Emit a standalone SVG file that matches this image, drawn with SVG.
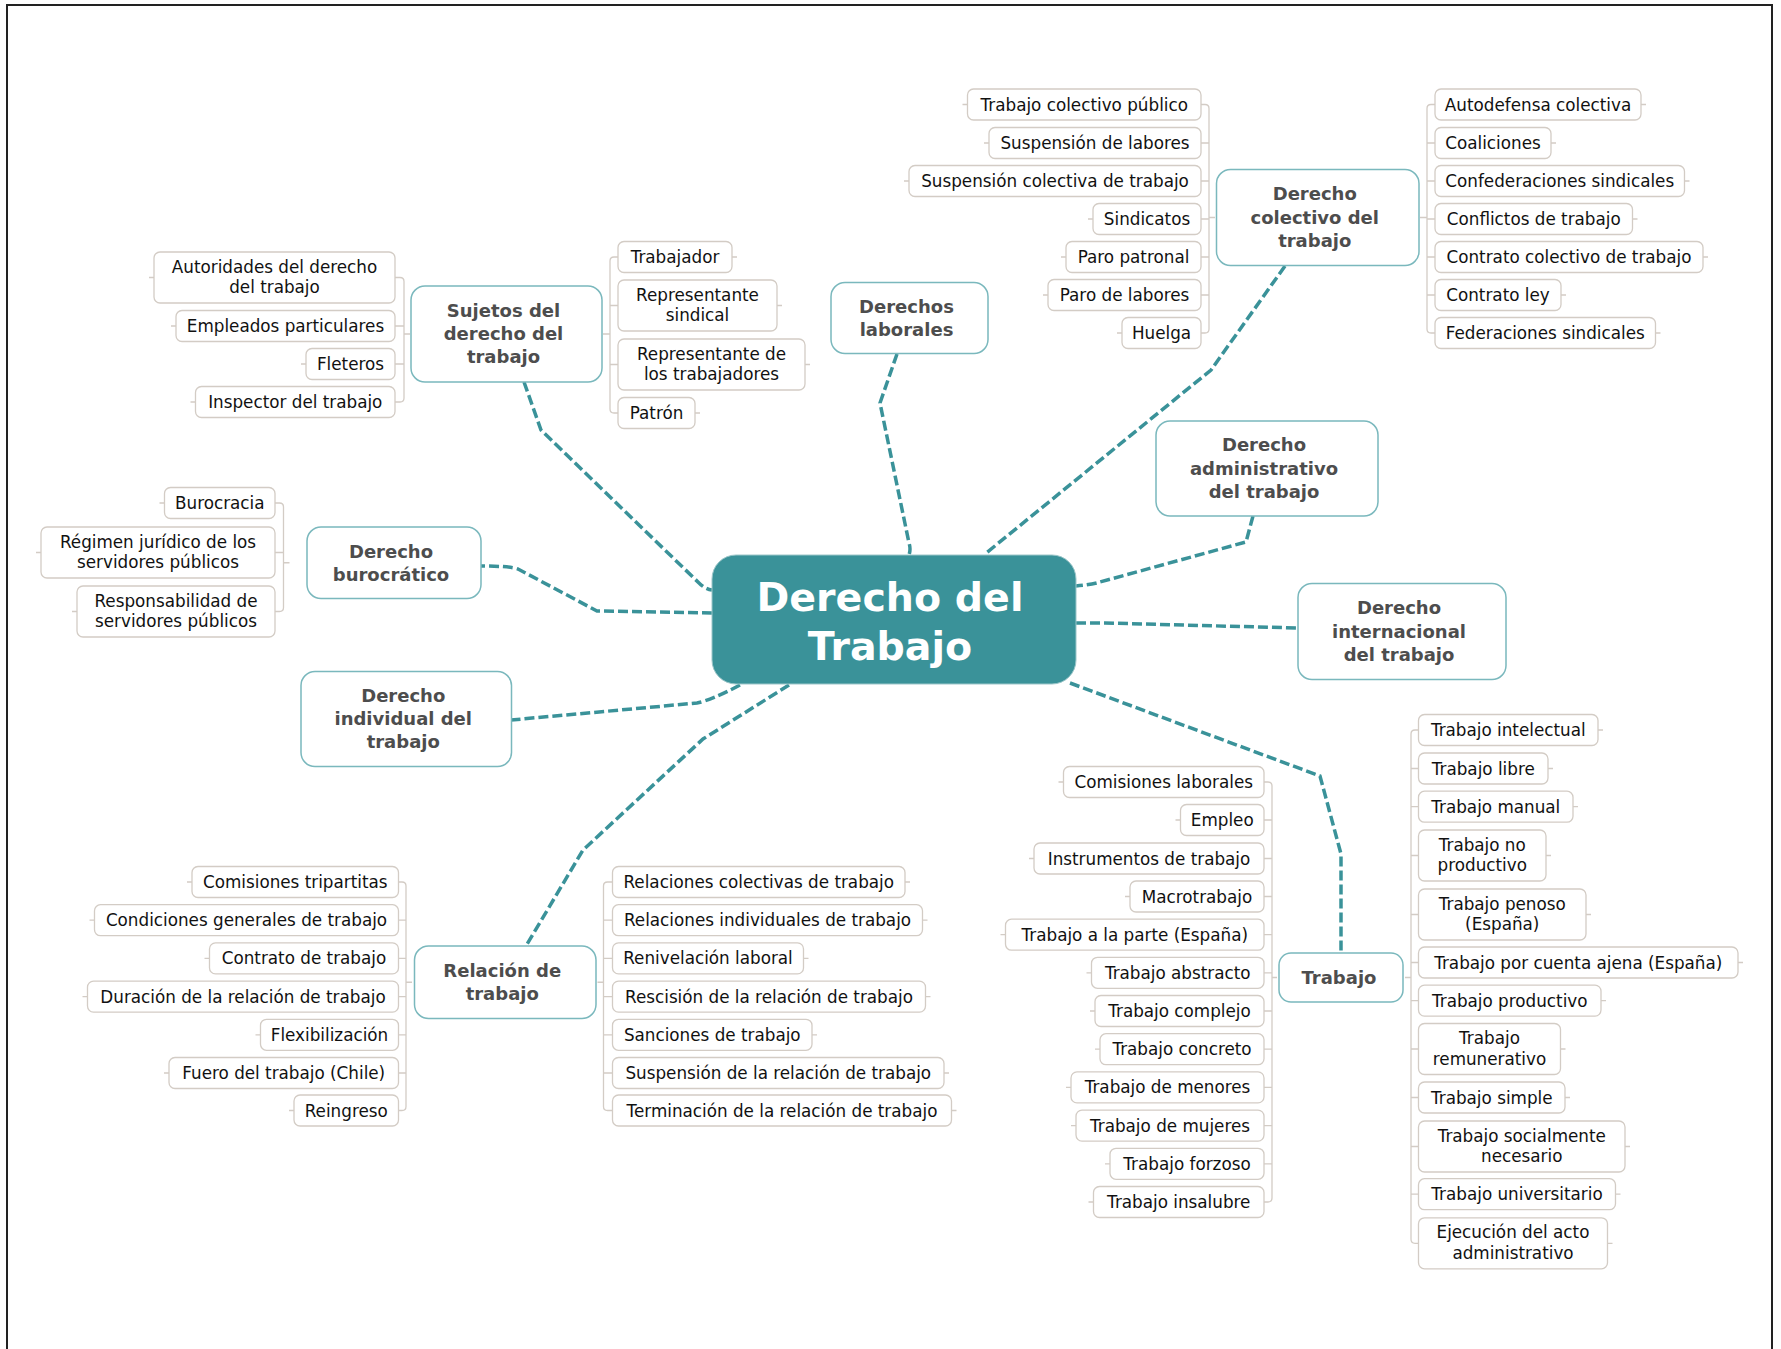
<svg xmlns="http://www.w3.org/2000/svg" width="1781" height="1349" viewBox="0 0 1781 1349">
<style>
.leaf rect{fill:#fff;stroke:#d3ccc5;stroke-width:1.3}
.leaf text{font-family:"DejaVu Sans",Verdana,sans-serif;font-size:16.8px;fill:#111;text-anchor:middle}
.main rect{fill:#fff;stroke:#7ab8bd;stroke-width:1.5}
.main text{font-family:"DejaVu Sans",Verdana,sans-serif;font-size:18px;font-weight:bold;fill:#4d4d4d;text-anchor:middle}
.br{fill:none;stroke:#d3ccc5;stroke-width:1.3}
.conn{fill:none;stroke:#3a9299;stroke-width:3.5;stroke-dasharray:10 4}
</style>
<rect width="1781" height="1349" fill="#fff"/>
<path d="M7,1349 V5 H1772 V1349" fill="none" stroke="#222" stroke-width="2"/>

<g id="connectors">
<path class="conn" d="M524,382 L541,430 L699,583 Q705,589 712,590"/>
<path class="conn" d="M897,354 L880,403 L909,543 Q911,549 909,555"/>
<path class="conn" d="M1285,266 L1211,370 L985,554"/>
<path class="conn" d="M1253,516 L1246,542 L1100,582 Q1090,585 1076,586"/>
<path class="conn" d="M1076,623 L1105,623 L1298,628"/>
<path class="conn" d="M1070,683 L1320,776 L1341,854 L1341,953"/>
<path class="conn" d="M789,685 L703,739 L583,850 L526,946"/>
<path class="conn" d="M740,685 Q712,700 697,703 L511,720"/>
<path class="conn" d="M712,613 L597,611 L518,569 Q510,566 481,566"/>

<path class="br" d="M395,277.5 H400 Q404,277.5 404,281.5 V398 Q404,402 400,402 H395 M395,326 H404 M395,364 H404 M404,334 H410 M149,277.5 H154 M171,326 H176 M301,364 H306 M190.5,402 H195.5"/>
<path class="br" d="M618,257 H614 Q610,257 610,261 V409 Q610,413 614,413 H618 M610,305.5 H618 M610,364.5 H618 M610,334 H603 M732,257 H737 M777,305.5 H782 M805,364.5 H810 M695,413 H700"/>
<path class="br" d="M1201,104.5 H1205 Q1209,104.5 1209,108.5 V329 Q1209,333 1205,333 H1201 M1201,143 H1209 M1201,181 H1209 M1201,219 H1209 M1201,257 H1209 M1201,295 H1209 M1209,217.5 H1215 M962.5,104.5 H967.5 M984,143 H989 M904,181 H909 M1088,219 H1093 M1061,257 H1066 M1043,295 H1048 M1117,333 H1122"/>
<path class="br" d="M1435,104.5 H1431 Q1427,104.5 1427,108.5 V329 Q1427,333 1431,333 H1435 M1427,143 H1435 M1427,181 H1435 M1427,219 H1435 M1427,257 H1435 M1427,295 H1435 M1427,217.5 H1420 M1641,104.5 H1646 M1551,143 H1556 M1684.5,181 H1689.5 M1632.5,219 H1637.5 M1703,257 H1708 M1561,295 H1566 M1655.5,333 H1660.5"/>
<path class="br" d="M275,503 H279.5 Q283.5,503 283.5,507 V607.5 Q283.5,611.5 279.5,611.5 H275 M275,552.5 H283.5 M283.5,562.75 H289.5 M159.5,503 H164.5 M36,552.5 H41 M72,611.5 H77"/>
<path class="br" d="M398.5,882 H402 Q406,882 406,886 V1106.5 Q406,1110.5 402,1110.5 H398.5 M398.5,920.2 H406 M398.5,958.4 H406 M398.5,996.6 H406 M398.5,1034.8 H406 M398.5,1073 H406 M406,982.25 H412 M187,882 H192 M89.5,920.2 H94.5 M204.5,958.4 H209.5 M82.5,996.6 H87.5 M255.5,1034.8 H260.5 M164,1073 H169 M289,1110.5 H294"/>
<path class="br" d="M612.5,882 H607.5 Q603.5,882 603.5,886 V1106.5 Q603.5,1110.5 607.5,1110.5 H612.5 M603.5,920.2 H612.5 M603.5,958.4 H612.5 M603.5,996.6 H612.5 M603.5,1034.8 H612.5 M603.5,1073 H612.5 M603.5,982.25 H597.5 M905,882 H910 M922.5,920.2 H927.5 M803.5,958.4 H808.5 M925.5,996.6 H930.5 M812,1034.8 H817 M944,1073 H949 M951.5,1110.5 H956.5"/>
<path class="br" d="M1264,782 H1268 Q1272,782 1272,786 V1198 Q1272,1202 1268,1202 H1264 M1264,820 H1272 M1264,858.5 H1272 M1264,896.5 H1272 M1264,934.7 H1272 M1264,972.8 H1272 M1264,1011 H1272 M1264,1049.2 H1272 M1264,1087.4 H1272 M1264,1125.6 H1272 M1264,1163.8 H1272 M1272,977.5 H1277 M1058.5,782 H1063.5 M1175.5,820 H1180.5 M1029,858.5 H1034 M1125,896.5 H1130 M1000.5,934.7 H1005.5 M1086.5,972.8 H1091.5 M1090,1011 H1095 M1095,1049.2 H1100 M1066,1087.4 H1071 M1071,1125.6 H1076 M1105,1163.8 H1110 M1088.5,1202 H1093.5"/>
<path class="br" d="M1418.5,730 H1415 Q1411,730 1411,734 V1239.3 Q1411,1243.3 1415,1243.3 H1418.5 M1411,768.5 H1418.5 M1411,806.7 H1418.5 M1411,855.5 H1418.5 M1411,914.5 H1418.5 M1411,962.5 H1418.5 M1411,1000.6 H1418.5 M1411,1049 H1418.5 M1411,1097.5 H1418.5 M1411,1146.5 H1418.5 M1411,1194.2 H1418.5 M1411,977.5 H1405 M1598,730 H1603 M1548,768.5 H1553 M1573,806.7 H1578 M1546,855.5 H1551 M1586,914.5 H1591 M1738,962.5 H1743 M1601,1000.6 H1606 M1560.5,1049 H1565.5 M1565,1097.5 H1570 M1625,1146.5 H1630 M1615.5,1194.2 H1620.5 M1607.5,1243.3 H1612.5"/>
</g>

<g id="central">
<rect x="712" y="555" width="364" height="129" rx="24" fill="#3a9299" stroke="#9cc6c9" stroke-width="1"/>
<text x="890" y="611" font-family="DejaVu Sans,Verdana,sans-serif" font-size="39.5" font-weight="bold" fill="#fff" text-anchor="middle">Derecho del</text>
<text x="890" y="660" font-family="DejaVu Sans,Verdana,sans-serif" font-size="39.5" font-weight="bold" fill="#fff" text-anchor="middle">Trabajo</text>
</g>

<g id="sujetos" class="main"><rect x="411" y="286" width="191" height="96" rx="14"/><text x="503.5" y="316.7">Sujetos del</text><text x="503.5" y="340">derecho del</text><text x="503.5" y="363.3">trabajo</text></g>
<g id="derechos-laborales" class="main"><rect x="831" y="282.5" width="157" height="71" rx="14"/><text x="906.5" y="312.7">Derechos</text><text x="906.5" y="336">laborales</text></g>
<g id="colectivo" class="main"><rect x="1216.5" y="169.5" width="202.5" height="96" rx="14"/><text x="1314.75" y="200.2">Derecho</text><text x="1314.75" y="223.5">colectivo del</text><text x="1314.75" y="246.8">trabajo</text></g>
<g id="administrativo" class="main"><rect x="1156" y="421" width="222" height="95" rx="14"/><text x="1264" y="451.2">Derecho</text><text x="1264" y="474.5">administrativo</text><text x="1264" y="497.8">del trabajo</text></g>
<g id="burocratico" class="main"><rect x="307" y="527" width="174" height="71.5" rx="14"/><text x="391" y="557.5">Derecho</text><text x="391" y="580.8">burocrático</text></g>
<g id="internacional" class="main"><rect x="1298" y="583.5" width="208" height="96" rx="14"/><text x="1399" y="614.2">Derecho</text><text x="1399" y="637.5">internacional</text><text x="1399" y="660.8">del trabajo</text></g>
<g id="individual" class="main"><rect x="301" y="671.5" width="210.5" height="95" rx="14"/><text x="403.25" y="701.7">Derecho</text><text x="403.25" y="725">individual del</text><text x="403.25" y="748.3">trabajo</text></g>
<g id="relacion" class="main"><rect x="414.5" y="946" width="181.5" height="72.5" rx="14"/><text x="502.25" y="977">Relación de</text><text x="502.25" y="1000.3">trabajo</text></g>
<g id="trabajo" class="main"><rect x="1279" y="953" width="124" height="49" rx="12"/><text x="1339" y="984">Trabajo</text></g>

<g id="autoridades" class="leaf"><rect x="154" y="252" width="241" height="51" rx="6"/><text x="274.5" y="272.5">Autoridades del derecho</text><text x="274.5" y="293">del trabajo</text></g>
<g id="empleados" class="leaf"><rect x="176" y="310.5" width="219" height="31" rx="6"/><text x="285.5" y="332">Empleados particulares</text></g>
<g id="fleteros" class="leaf"><rect x="306" y="348.5" width="89" height="31" rx="6"/><text x="350.5" y="370">Fleteros</text></g>
<g id="inspector" class="leaf"><rect x="195.5" y="386.5" width="199.5" height="31" rx="6"/><text x="295.25" y="408">Inspector del trabajo</text></g>
<g id="trabajador" class="leaf"><rect x="618" y="241.5" width="114" height="31" rx="6"/><text x="675" y="263">Trabajador</text></g>
<g id="rep-sindical" class="leaf"><rect x="618" y="280" width="159" height="51" rx="6"/><text x="697.5" y="300.5">Representante</text><text x="697.5" y="321">sindical</text></g>
<g id="rep-trabajadores" class="leaf"><rect x="618" y="339" width="187" height="51" rx="6"/><text x="711.5" y="359.5">Representante de</text><text x="711.5" y="380">los trabajadores</text></g>
<g id="patron" class="leaf"><rect x="618" y="397.5" width="77" height="31" rx="6"/><text x="656.5" y="419">Patrón</text></g>

<g id="tcp" class="leaf"><rect x="967.5" y="89" width="233.5" height="31" rx="6"/><text x="1084.25" y="110.5">Trabajo colectivo público</text></g>
<g id="susp-labores" class="leaf"><rect x="989" y="127.5" width="212" height="31" rx="6"/><text x="1095" y="149">Suspensión de labores</text></g>
<g id="susp-colectiva" class="leaf"><rect x="909" y="165.5" width="292" height="31" rx="6"/><text x="1055" y="187">Suspensión colectiva de trabajo</text></g>
<g id="sindicatos" class="leaf"><rect x="1093" y="203.5" width="108" height="31" rx="6"/><text x="1147" y="225">Sindicatos</text></g>
<g id="paro-patronal" class="leaf"><rect x="1066" y="241.5" width="135" height="31" rx="6"/><text x="1133.5" y="263">Paro patronal</text></g>
<g id="paro-labores" class="leaf"><rect x="1048" y="279.5" width="153" height="31" rx="6"/><text x="1124.5" y="301">Paro de labores</text></g>
<g id="huelga" class="leaf"><rect x="1122" y="317.5" width="79" height="31" rx="6"/><text x="1161.5" y="339">Huelga</text></g>
<g id="autodefensa" class="leaf"><rect x="1435" y="89" width="206" height="31" rx="6"/><text x="1538" y="110.5">Autodefensa colectiva</text></g>
<g id="coaliciones" class="leaf"><rect x="1435" y="127.5" width="116" height="31" rx="6"/><text x="1493" y="149">Coaliciones</text></g>
<g id="confederaciones" class="leaf"><rect x="1435" y="165.5" width="249.5" height="31" rx="6"/><text x="1559.75" y="187">Confederaciones sindicales</text></g>
<g id="conflictos" class="leaf"><rect x="1435" y="203.5" width="197.5" height="31" rx="6"/><text x="1533.75" y="225">Conflictos de trabajo</text></g>
<g id="contrato-colectivo" class="leaf"><rect x="1435" y="241.5" width="268" height="31" rx="6"/><text x="1569" y="263">Contrato colectivo de trabajo</text></g>
<g id="contrato-ley" class="leaf"><rect x="1435" y="279.5" width="126" height="31" rx="6"/><text x="1498" y="301">Contrato ley</text></g>
<g id="federaciones" class="leaf"><rect x="1435" y="317.5" width="220.5" height="31" rx="6"/><text x="1545.25" y="339">Federaciones sindicales</text></g>

<g id="burocracia" class="leaf"><rect x="164.5" y="487.5" width="110.5" height="31" rx="6"/><text x="219.75" y="509">Burocracia</text></g>
<g id="regimen" class="leaf"><rect x="41" y="527" width="234" height="51" rx="6"/><text x="158" y="547.5">Régimen jurídico de los</text><text x="158" y="568">servidores públicos</text></g>
<g id="responsabilidad" class="leaf"><rect x="77" y="586" width="198" height="51" rx="6"/><text x="176" y="606.5">Responsabilidad de</text><text x="176" y="627">servidores públicos</text></g>

<g id="comisiones-tripartitas" class="leaf"><rect x="192" y="866.5" width="206.5" height="31" rx="6"/><text x="295.25" y="888">Comisiones tripartitas</text></g>
<g id="condiciones" class="leaf"><rect x="94.5" y="904.7" width="304" height="31" rx="6"/><text x="246.5" y="926.2">Condiciones generales de trabajo</text></g>
<g id="contrato-trabajo" class="leaf"><rect x="209.5" y="942.9" width="189" height="31" rx="6"/><text x="304" y="964.4">Contrato de trabajo</text></g>
<g id="duracion" class="leaf"><rect x="87.5" y="981.1" width="311" height="31" rx="6"/><text x="243" y="1002.6">Duración de la relación de trabajo</text></g>
<g id="flexibilizacion" class="leaf"><rect x="260.5" y="1019.3" width="138" height="31" rx="6"/><text x="329.5" y="1040.8">Flexibilización</text></g>
<g id="fuero" class="leaf"><rect x="169" y="1057.5" width="229.5" height="31" rx="6"/><text x="283.75" y="1079">Fuero del trabajo (Chile)</text></g>
<g id="reingreso" class="leaf"><rect x="294" y="1095" width="104.5" height="31" rx="6"/><text x="346.25" y="1116.5">Reingreso</text></g>
<g id="rel-colectivas" class="leaf"><rect x="612.5" y="866.5" width="292.5" height="31" rx="6"/><text x="758.75" y="888">Relaciones colectivas de trabajo</text></g>
<g id="rel-individuales" class="leaf"><rect x="612.5" y="904.7" width="310" height="31" rx="6"/><text x="767.5" y="926.2">Relaciones individuales de trabajo</text></g>
<g id="renivelacion" class="leaf"><rect x="612.5" y="942.9" width="191" height="31" rx="6"/><text x="708" y="964.4">Renivelación laboral</text></g>
<g id="rescision" class="leaf"><rect x="612.5" y="981.1" width="313" height="31" rx="6"/><text x="769" y="1002.6">Rescisión de la relación de trabajo</text></g>
<g id="sanciones" class="leaf"><rect x="612.5" y="1019.3" width="199.5" height="31" rx="6"/><text x="712.25" y="1040.8">Sanciones de trabajo</text></g>
<g id="suspension-relacion" class="leaf"><rect x="612.5" y="1057.5" width="331.5" height="31" rx="6"/><text x="778.25" y="1079">Suspensión de la relación de trabajo</text></g>
<g id="terminacion" class="leaf"><rect x="612.5" y="1095" width="339" height="31" rx="6"/><text x="782" y="1116.5">Terminación de la relación de trabajo</text></g>

<g id="comisiones-laborales" class="leaf"><rect x="1063.5" y="766.5" width="200.5" height="31" rx="6"/><text x="1163.75" y="788">Comisiones laborales</text></g>
<g id="empleo" class="leaf"><rect x="1180.5" y="804.5" width="83.5" height="31" rx="6"/><text x="1222.25" y="826">Empleo</text></g>
<g id="instrumentos" class="leaf"><rect x="1034" y="843" width="230" height="31" rx="6"/><text x="1149" y="864.5">Instrumentos de trabajo</text></g>
<g id="macrotrabajo" class="leaf"><rect x="1130" y="881" width="134" height="31" rx="6"/><text x="1197" y="902.5">Macrotrabajo</text></g>
<g id="trabajo-parte" class="leaf"><rect x="1005.5" y="919.2" width="258.5" height="31" rx="6"/><text x="1134.75" y="940.7">Trabajo a la parte (España)</text></g>
<g id="abstracto" class="leaf"><rect x="1091.5" y="957.3" width="172.5" height="31" rx="6"/><text x="1177.75" y="978.8">Trabajo abstracto</text></g>
<g id="complejo" class="leaf"><rect x="1095" y="995.5" width="169" height="31" rx="6"/><text x="1179.5" y="1017">Trabajo complejo</text></g>
<g id="concreto" class="leaf"><rect x="1100" y="1033.7" width="164" height="31" rx="6"/><text x="1182" y="1055.2">Trabajo concreto</text></g>
<g id="menores" class="leaf"><rect x="1071" y="1071.9" width="193" height="31" rx="6"/><text x="1167.5" y="1093.4">Trabajo de menores</text></g>
<g id="mujeres" class="leaf"><rect x="1076" y="1110.1" width="188" height="31" rx="6"/><text x="1170" y="1131.6">Trabajo de mujeres</text></g>
<g id="forzoso" class="leaf"><rect x="1110" y="1148.3" width="154" height="31" rx="6"/><text x="1187" y="1169.8">Trabajo forzoso</text></g>
<g id="insalubre" class="leaf"><rect x="1093.5" y="1186.5" width="170.5" height="31" rx="6"/><text x="1178.75" y="1208">Trabajo insalubre</text></g>

<g id="intelectual" class="leaf"><rect x="1418.5" y="714.5" width="179.5" height="31" rx="6"/><text x="1508.25" y="736">Trabajo intelectual</text></g>
<g id="libre" class="leaf"><rect x="1418.5" y="753" width="129.5" height="31" rx="6"/><text x="1483.25" y="774.5">Trabajo libre</text></g>
<g id="manual" class="leaf"><rect x="1418.5" y="791.2" width="154.5" height="31" rx="6"/><text x="1495.75" y="812.7">Trabajo manual</text></g>
<g id="no-productivo" class="leaf"><rect x="1418.5" y="830" width="127.5" height="51" rx="6"/><text x="1482.25" y="850.5">Trabajo no</text><text x="1482.25" y="871">productivo</text></g>
<g id="penoso" class="leaf"><rect x="1418.5" y="889" width="167.5" height="51" rx="6"/><text x="1502.25" y="909.5">Trabajo penoso</text><text x="1502.25" y="930">(España)</text></g>
<g id="cuenta-ajena" class="leaf"><rect x="1418.5" y="947" width="319.5" height="31" rx="6"/><text x="1578.25" y="968.5">Trabajo por cuenta ajena (España)</text></g>
<g id="productivo" class="leaf"><rect x="1418.5" y="985.1" width="182.5" height="31" rx="6"/><text x="1509.75" y="1006.6">Trabajo productivo</text></g>
<g id="remunerativo" class="leaf"><rect x="1418.5" y="1023.5" width="142" height="51" rx="6"/><text x="1489.5" y="1044">Trabajo</text><text x="1489.5" y="1064.5">remunerativo</text></g>
<g id="simple" class="leaf"><rect x="1418.5" y="1082" width="146.5" height="31" rx="6"/><text x="1491.75" y="1103.5">Trabajo simple</text></g>
<g id="socialmente" class="leaf"><rect x="1418.5" y="1121" width="206.5" height="51" rx="6"/><text x="1521.75" y="1141.5">Trabajo socialmente</text><text x="1521.75" y="1162">necesario</text></g>
<g id="universitario" class="leaf"><rect x="1418.5" y="1178.7" width="197" height="31" rx="6"/><text x="1517" y="1200.2">Trabajo universitario</text></g>
<g id="ejecucion" class="leaf"><rect x="1418.5" y="1217.8" width="189" height="51" rx="6"/><text x="1513" y="1238.3">Ejecución del acto</text><text x="1513" y="1258.8">administrativo</text></g>
</svg>
